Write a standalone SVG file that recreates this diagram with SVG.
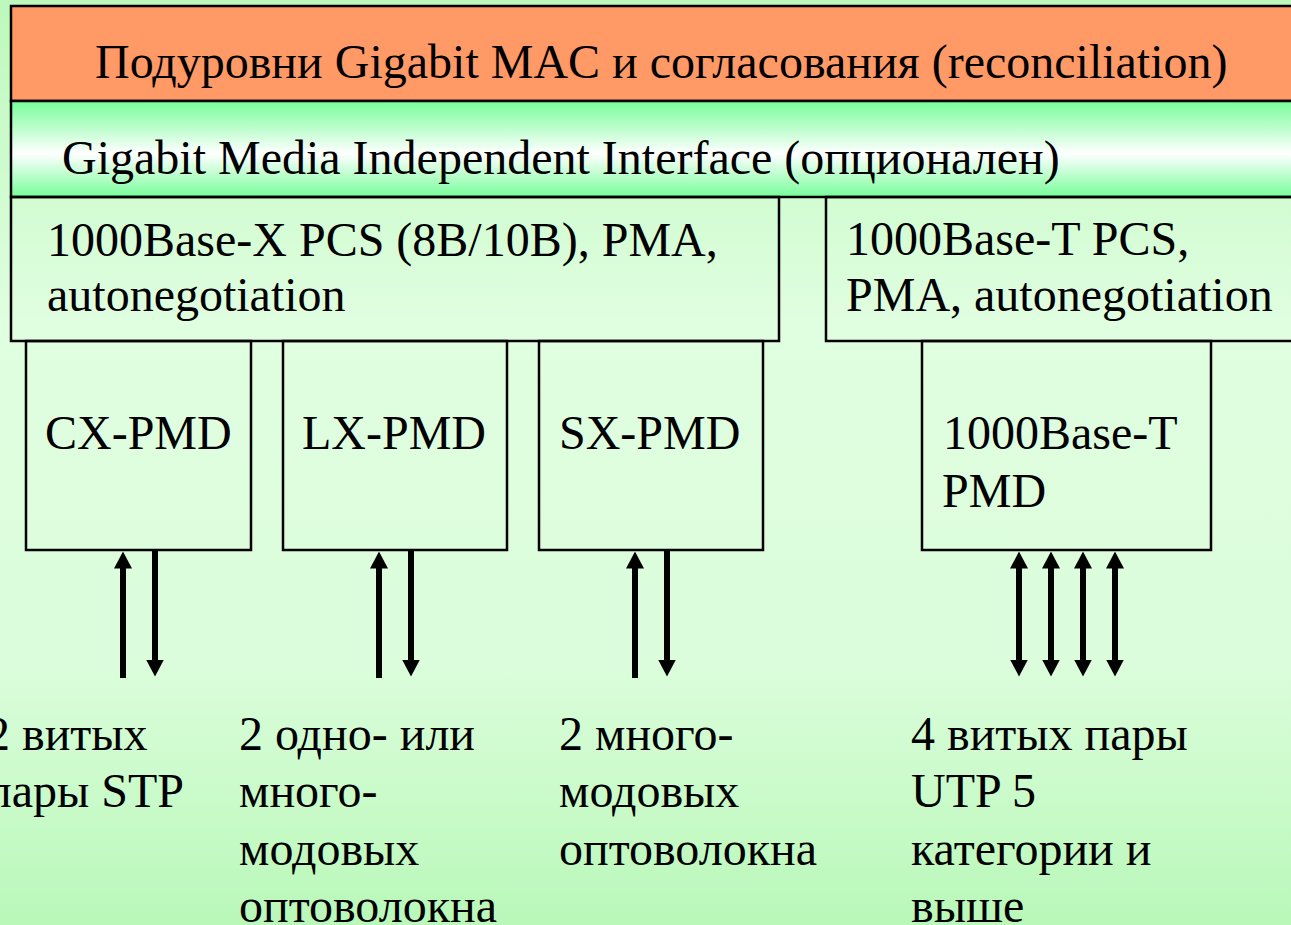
<svg xmlns="http://www.w3.org/2000/svg" width="1291" height="925" viewBox="0 0 1291 925">
<defs>
<linearGradient id="bg" x1="0" y1="0" x2="0" y2="1">
<stop offset="0" stop-color="#bcf9bc"/>
<stop offset="0.35" stop-color="#e0fee0"/>
<stop offset="0.72" stop-color="#dbfddb"/>
<stop offset="1" stop-color="#b9f8b9"/>
</linearGradient>
<linearGradient id="gmii" x1="0" y1="0" x2="0" y2="1">
<stop offset="0" stop-color="#77fd99"/>
<stop offset="0.55" stop-color="#ffffff"/>
<stop offset="1" stop-color="#77fd99"/>
</linearGradient>
<marker id="ah" viewBox="0 -9 17 18" refX="0.5" refY="0" markerWidth="17" markerHeight="18" markerUnits="userSpaceOnUse" orient="auto-start-reverse">
<path d="M0,-9 L17,0 L0,9 Z" fill="#000"/>
</marker>
<style>
text{font-family:"Liberation Serif","Times New Roman",serif;font-size:48px;fill:#000}
.box{fill:none;stroke:#000;stroke-width:2.5}
.arr{stroke:#000;stroke-width:6;fill:none}
</style>
</defs>
<rect x="0" y="0" width="1291" height="925" fill="url(#bg)"/>
<g id="mac">
<rect x="11" y="6" width="1290" height="95" fill="#ff9966" stroke="#000" stroke-width="2.5"/>
<text x="95" y="78">Подуровни Gigabit MAC и согласования (reconciliation)</text>
</g>
<g id="gmii-layer">
<rect x="11" y="101" width="1290" height="96" fill="url(#gmii)" stroke="#000" stroke-width="2.5"/>
<text x="62" y="174">Gigabit Media Independent Interface (опционален)</text>
</g>
<g id="pcs-x">
<rect class="box" x="11" y="197" width="768" height="144"/>
<text x="47" y="256">1000Base-X PCS (8B/10B), PMA,</text>
<text x="47" y="311">autonegotiation</text>
</g>
<g id="pcs-t">
<rect class="box" x="826" y="197" width="475" height="144"/>
<text x="846" y="255">1000Base-T PCS,</text>
<text x="846" y="311">PMA, autonegotiation</text>
</g>
<g id="cx">
<rect class="box" x="26" y="341" width="225" height="209"/>
<text x="45" y="449">CX-PMD</text>
</g>
<g id="lx">
<rect class="box" x="283" y="341" width="224" height="209"/>
<text x="302" y="449">LX-PMD</text>
</g>
<g id="sx">
<rect class="box" x="539" y="341" width="224" height="209"/>
<text x="559" y="449">SX-PMD</text>
</g>
<g id="tpmd">
<rect class="box" x="922" y="341" width="289" height="209"/>
<text x="943" y="449">1000Base-T</text>
<text x="942" y="507">PMD</text>
</g>
<g id="connectors">
<line class="arr" x1="123" y1="678" x2="123" y2="568" marker-end="url(#ah)"/>
<line class="arr" x1="155" y1="550" x2="155" y2="660" marker-end="url(#ah)"/>
<line class="arr" x1="379" y1="678" x2="379" y2="568" marker-end="url(#ah)"/>
<line class="arr" x1="411" y1="550" x2="411" y2="660" marker-end="url(#ah)"/>
<line class="arr" x1="635" y1="678" x2="635" y2="568" marker-end="url(#ah)"/>
<line class="arr" x1="667" y1="550" x2="667" y2="660" marker-end="url(#ah)"/>
<line class="arr" x1="1019" y1="568" x2="1019" y2="660" marker-start="url(#ah)" marker-end="url(#ah)"/>
<line class="arr" x1="1051" y1="568" x2="1051" y2="660" marker-start="url(#ah)" marker-end="url(#ah)"/>
<line class="arr" x1="1083" y1="568" x2="1083" y2="660" marker-start="url(#ah)" marker-end="url(#ah)"/>
<line class="arr" x1="1115" y1="568" x2="1115" y2="660" marker-start="url(#ah)" marker-end="url(#ah)"/>
</g>
<g id="label-cx">
<text x="-14" y="750">2 витых</text>
<text x="-14" y="807">пары STP</text>
</g>
<g id="label-lx">
<text x="239" y="750">2 одно- или</text>
<text x="239" y="807">много-</text>
<text x="239" y="865">модовых</text>
<text x="239" y="922">оптоволокна</text>
</g>
<g id="label-sx">
<text x="559" y="750">2 много-</text>
<text x="559" y="807">модовых</text>
<text x="559" y="865">оптоволокна</text>
</g>
<g id="label-t">
<text x="911" y="750">4 витых пары</text>
<text x="911" y="807">UTP 5</text>
<text x="911" y="865">категории и</text>
<text x="911" y="922">выше</text>
</g>
</svg>
